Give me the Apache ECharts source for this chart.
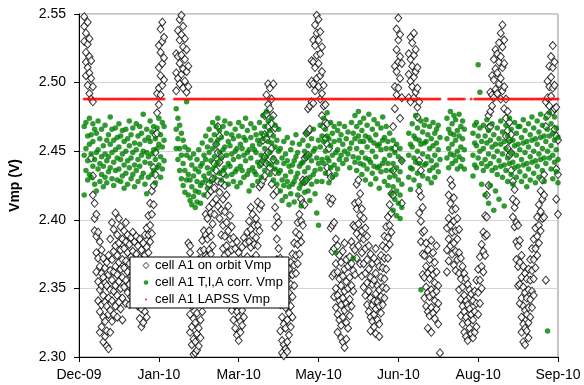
<!DOCTYPE html>
<html>
<head>
<meta charset="utf-8">
<script src="https://cdn.jsdelivr.net/npm/echarts@6.0.0/dist/echarts.min.js"></script>
<style>
  html, body { margin: 0; padding: 0; background: #fff; }
  #chart { width: 584px; height: 385px; }
</style>
</head>
<body>
<div id="chart"></div>
<script>
// x is days after 15 Dec 2009; ticks every 46 days
const monthLabels = ['Dec-09', 'Jan-10', 'Mar-10', 'May-10', 'Jun-10', 'Aug-10', 'Sep-10'];

// on orbit Vmp, one row per day: [day, Vmp, Vmp, ...]
const orbitDec = [
  [3, 2.548, 2.541, 2.530], [4, 2.536, 2.522, 2.515, 2.505], [5, 2.544, 2.528, 2.511, 2.498],
  [6, 2.532, 2.519, 2.507, 2.492], [7, 2.516, 2.503, 2.488, 2.445], [8, 2.497, 2.486, 2.432, 2.418],
  [9, 2.412, 2.401, 2.392], [10, 2.404, 2.388, 2.376, 2.362], [11, 2.391, 2.372, 2.355, 2.341],
  [12, 2.384, 2.366, 2.349, 2.333, 2.318], [13, 2.378, 2.361, 2.352, 2.338, 2.322],
  [14, 2.372, 2.358, 2.345, 2.329, 2.311], [15, 2.365, 2.354, 2.340, 2.326, 2.315],
  [16, 2.369, 2.352, 2.337, 2.319, 2.308], [17, 2.374, 2.360, 2.343, 2.331, 2.306],
  [18, 2.386, 2.363, 2.349, 2.334, 2.318], [19, 2.398, 2.371, 2.356, 2.341, 2.326],
  [20, 2.393, 2.377, 2.362, 2.348, 2.331], [21, 2.405, 2.381, 2.366, 2.352, 2.337],
  [22, 2.389, 2.374, 2.360, 2.345, 2.329], [23, 2.401, 2.383, 2.369, 2.355, 2.340],
  [24, 2.395, 2.378, 2.364, 2.350, 2.335], [25, 2.386, 2.371, 2.358, 2.343, 2.327],
  [26, 2.392, 2.379, 2.365, 2.351], [27, 2.398, 2.384, 2.370, 2.356, 2.339],
  [28, 2.389, 2.376, 2.362, 2.347], [29, 2.382, 2.368, 2.353, 2.338], [30, 2.387, 2.373, 2.359, 2.344],
  [31, 2.391, 2.377, 2.361, 2.349], [32, 2.384, 2.369, 2.356, 2.342], [33, 2.388, 2.375, 2.360, 2.346],
  [34, 2.381, 2.366, 2.352, 2.337], [35, 2.386, 2.372, 2.343, 2.328], [36, 2.378, 2.364, 2.335, 2.322],
  [37, 2.383, 2.368, 2.339, 2.325], [38, 2.389, 2.374, 2.333], [39, 2.394, 2.380, 2.329],
  [40, 2.403, 2.389, 2.376], [41, 2.412, 2.396, 2.384], [42, 2.421, 2.404, 2.390],
  [43, 2.438, 2.425, 2.411], [44, 2.462, 2.449, 2.433], [45, 2.492, 2.478, 2.463],
  [46, 2.527, 2.511, 2.496, 2.484], [47, 2.539, 2.522, 2.505, 2.491], [48, 2.544, 2.530, 2.514, 2.498],
  [49, 2.533, 2.518, 2.502]
];
const orbitFebApr = [
  [56, 2.521, 2.507, 2.494], [57, 2.538, 2.519, 2.503], [58, 2.546, 2.531, 2.514, 2.499],
  [59, 2.549, 2.535, 2.520, 2.506], [60, 2.541, 2.526, 2.510, 2.496], [61, 2.532, 2.517, 2.501],
  [62, 2.524, 2.508, 2.493], [63, 2.512, 2.497, 2.383], [64, 2.381, 2.376, 2.331, 2.318],
  [65, 2.368, 2.352, 2.337, 2.322, 2.309], [66, 2.362, 2.345, 2.328, 2.313, 2.302],
  [67, 2.358, 2.341, 2.325, 2.311, 2.303], [68, 2.364, 2.348, 2.332, 2.317, 2.305],
  [69, 2.371, 2.355, 2.339, 2.321, 2.308], [70, 2.377, 2.361, 2.344, 2.327, 2.314],
  [71, 2.385, 2.368, 2.350, 2.333], [72, 2.392, 2.378, 2.362, 2.345], [73, 2.404, 2.389, 2.374],
  [74, 2.418, 2.401, 2.386, 2.373], [75, 2.426, 2.409, 2.392, 2.378], [76, 2.421, 2.405, 2.388, 2.375],
  [77, 2.430, 2.412, 2.397, 2.381], [78, 2.441, 2.423, 2.404], [79, 2.455, 2.436, 2.415],
  [80, 2.468, 2.449, 2.428, 2.410], [81, 2.461, 2.442, 2.420, 2.401], [82, 2.446, 2.427, 2.407, 2.389],
  [83, 2.434, 2.415, 2.396, 2.379], [84, 2.425, 2.406, 2.388, 2.374], [85, 2.418, 2.398, 2.381],
  [86, 2.410, 2.392, 2.376, 2.352], [87, 2.403, 2.386, 2.362, 2.341], [88, 2.395, 2.378, 2.355, 2.334],
  [89, 2.387, 2.369, 2.346, 2.327], [90, 2.379, 2.361, 2.338, 2.321], [91, 2.384, 2.357, 2.333, 2.316],
  [92, 2.376, 2.350, 2.329, 2.312], [93, 2.372, 2.346, 2.326, 2.318], [94, 2.380, 2.355, 2.334, 2.323],
  [95, 2.387, 2.361, 2.340, 2.329], [96, 2.383, 2.368, 2.345], [97, 2.391, 2.373, 2.351],
  [98, 2.399, 2.384, 2.362], [99, 2.409, 2.393, 2.380], [100, 2.404, 2.389, 2.371],
  [101, 2.396, 2.382, 2.367], [102, 2.401, 2.387, 2.374], [103, 2.413, 2.396, 2.381],
  [104, 2.424, 2.408, 2.392], [105, 2.441, 2.426, 2.411], [106, 2.458, 2.443, 2.429],
  [107, 2.476, 2.462, 2.446, 2.432], [108, 2.491, 2.477, 2.459, 2.441], [109, 2.499, 2.484, 2.468, 2.449],
  [110, 2.496, 2.481, 2.463, 2.438], [111, 2.488, 2.470, 2.452, 2.426], [112, 2.499, 2.476, 2.444, 2.418],
  [113, 2.467, 2.435, 2.409, 2.395]
];
const orbitAprJun = [
  [114, 2.421, 2.402, 2.386, 2.371], [115, 2.398, 2.379, 2.361, 2.343], [116, 2.372, 2.355, 2.338, 2.319],
  [117, 2.361, 2.345, 2.329, 2.312, 2.303], [118, 2.356, 2.339, 2.324, 2.309, 2.301],
  [119, 2.352, 2.336, 2.321, 2.306], [120, 2.358, 2.341, 2.327, 2.311, 2.304],
  [121, 2.364, 2.347, 2.332, 2.316], [122, 2.369, 2.353, 2.337, 2.322], [123, 2.375, 2.360, 2.344, 2.329],
  [124, 2.383, 2.367, 2.352], [125, 2.391, 2.374, 2.361], [126, 2.398, 2.382, 2.368],
  [127, 2.404, 2.389, 2.375], [128, 2.415, 2.399, 2.384], [129, 2.429, 2.412, 2.396],
  [130, 2.445, 2.428, 2.411], [131, 2.463, 2.446, 2.429], [132, 2.481, 2.464, 2.447],
  [133, 2.499, 2.483, 2.466], [134, 2.516, 2.501, 2.486], [135, 2.531, 2.515, 2.499, 2.485],
  [136, 2.542, 2.527, 2.511, 2.494], [137, 2.549, 2.536, 2.520, 2.503], [138, 2.546, 2.531, 2.514, 2.497],
  [139, 2.537, 2.521, 2.505, 2.488], [140, 2.526, 2.508, 2.492, 2.476], [141, 2.498, 2.483, 2.468],
  [142, 2.484, 2.471, 2.459], [143, 2.470, 2.455, 2.438], [144, 2.452, 2.434, 2.416],
  [145, 2.431, 2.412, 2.394], [146, 2.415, 2.396, 2.377, 2.359], [147, 2.398, 2.379, 2.361, 2.344],
  [148, 2.386, 2.368, 2.350, 2.336], [149, 2.381, 2.362, 2.345, 2.331, 2.318],
  [150, 2.374, 2.357, 2.341, 2.327], [151, 2.369, 2.352, 2.338, 2.323, 2.314],
  [152, 2.377, 2.359, 2.343, 2.329, 2.311], [153, 2.383, 2.364, 2.348, 2.334, 2.307],
  [154, 2.371, 2.355, 2.339, 2.325, 2.313], [155, 2.366, 2.350, 2.336, 2.321],
  [156, 2.373, 2.358, 2.342, 2.330], [157, 2.384, 2.368, 2.352, 2.337], [158, 2.396, 2.380, 2.363, 2.348],
  [159, 2.412, 2.395, 2.378, 2.360], [160, 2.426, 2.408, 2.390, 2.372], [161, 2.429, 2.413, 2.397, 2.381],
  [162, 2.419, 2.403, 2.387, 2.368], [163, 2.408, 2.392, 2.376, 2.359], [164, 2.401, 2.386, 2.368, 2.351],
  [165, 2.394, 2.379, 2.361, 2.345], [166, 2.388, 2.371, 2.354, 2.338], [167, 2.381, 2.364, 2.348, 2.333],
  [168, 2.375, 2.358, 2.343, 2.329, 2.319], [169, 2.368, 2.353, 2.338, 2.326],
  [170, 2.372, 2.356, 2.341, 2.331, 2.322], [171, 2.379, 2.361, 2.346, 2.335, 2.317],
  [172, 2.369, 2.352, 2.340, 2.327], [173, 2.366, 2.349, 2.337, 2.324, 2.315],
  [174, 2.374, 2.358, 2.344, 2.332], [175, 2.381, 2.365, 2.351, 2.338], [176, 2.388, 2.372, 2.357, 2.343],
  [177, 2.395, 2.379, 2.364, 2.350], [178, 2.402, 2.387, 2.372], [179, 2.411, 2.396, 2.382],
  [180, 2.419, 2.405, 2.391], [181, 2.468, 2.436, 2.418], [182, 2.512, 2.497, 2.481, 2.452],
  [183, 2.539, 2.524, 2.508, 2.491], [184, 2.547, 2.531, 2.515, 2.496], [185, 2.535, 2.519, 2.503, 2.474],
  [186, 2.514, 2.489, 2.443, 2.412]
];
const orbitJulSep = [
  [190, 2.521, 2.506, 2.489], [191, 2.533, 2.517, 2.501, 2.486], [192, 2.529, 2.512, 2.497],
  [193, 2.536, 2.520, 2.504, 2.489], [194, 2.524, 2.508, 2.493], [195, 2.511, 2.496, 2.482, 2.475],
  [196, 2.486, 2.443, 2.421, 2.405], [197, 2.436, 2.417, 2.399, 2.384], [198, 2.409, 2.391, 2.375, 2.360],
  [199, 2.392, 2.374, 2.358, 2.343], [200, 2.383, 2.366, 2.351, 2.337], [201, 2.378, 2.361, 2.347, 2.333, 2.321],
  [202, 2.371, 2.357, 2.344, 2.330], [203, 2.385, 2.364, 2.349, 2.336, 2.318], [204, 2.376, 2.360, 2.346, 2.332],
  [205, 2.369, 2.354, 2.341, 2.328], [206, 2.381, 2.362, 2.348, 2.335], [207, 2.352, 2.339, 2.324],
  [208, 2.303],
  [212, 2.394, 2.378, 2.362], [213, 2.418, 2.401, 2.386, 2.370], [214, 2.429, 2.412, 2.396, 2.381],
  [215, 2.425, 2.407, 2.391, 2.375], [216, 2.416, 2.399, 2.383, 2.367], [217, 2.408, 2.392, 2.377, 2.363],
  [218, 2.401, 2.386, 2.371], [219, 2.393, 2.376, 2.361, 2.349], [220, 2.372, 2.357, 2.342, 2.330],
  [221, 2.366, 2.351, 2.337, 2.324], [222, 2.361, 2.345, 2.333, 2.318], [223, 2.357, 2.341, 2.329, 2.315],
  [224, 2.353, 2.338, 2.325, 2.312], [225, 2.349, 2.335, 2.321], [226, 2.346, 2.331, 2.317],
  [227, 2.341, 2.327, 2.314], [228, 2.348, 2.333, 2.318], [229, 2.356, 2.339, 2.322],
  [230, 2.364, 2.347, 2.331], [231, 2.373, 2.356, 2.339], [232, 2.382, 2.366, 2.350],
  [233, 2.391, 2.377, 2.362], [234, 2.403, 2.388, 2.374], [235, 2.418, 2.402, 2.389],
  [236, 2.476, 2.467, 2.425], [237, 2.493, 2.479, 2.468], [238, 2.505, 2.491, 2.483],
  [239, 2.517, 2.502, 2.489], [240, 2.524, 2.510, 2.495], [241, 2.521, 2.507, 2.492],
  [242, 2.529, 2.515, 2.499], [243, 2.536, 2.519, 2.503, 2.488], [244, 2.542, 2.526, 2.511, 2.494],
  [245, 2.531, 2.514, 2.497, 2.481], [246, 2.488, 2.474, 2.461], [247, 2.479, 2.465, 2.452],
  [248, 2.471, 2.458, 2.447], [249, 2.462, 2.449, 2.436], [250, 2.428, 2.415, 2.402],
  [251, 2.422, 2.409, 2.395], [252, 2.413, 2.398, 2.384, 2.371], [253, 2.396, 2.381, 2.366, 2.352],
  [254, 2.385, 2.369, 2.353, 2.339], [255, 2.374, 2.358, 2.343, 2.329, 2.318],
  [256, 2.366, 2.351, 2.337, 2.324, 2.311], [257, 2.361, 2.347, 2.334, 2.321, 2.309],
  [258, 2.357, 2.343, 2.331, 2.319], [259, 2.364, 2.349, 2.336, 2.325, 2.314],
  [260, 2.371, 2.356, 2.342, 2.329], [261, 2.379, 2.363, 2.348, 2.336], [262, 2.386, 2.371, 2.357, 2.345],
  [263, 2.394, 2.379, 2.365], [264, 2.402, 2.388, 2.374], [265, 2.411, 2.396, 2.383],
  [266, 2.421, 2.406, 2.392], [267, 2.429, 2.415, 2.401], [268, 2.433, 2.418, 2.402],
  [269, 2.486, 2.468, 2.356], [270, 2.501, 2.489, 2.476], [271, 2.512, 2.497, 2.483],
  [272, 2.519, 2.504, 2.490], [273, 2.527, 2.511, 2.496, 2.479], [274, 2.515, 2.498, 2.481, 2.466],
  [275, 2.482, 2.461, 2.437, 2.415], [276, 2.458, 2.433, 2.404]
];

// T,I,A corrected Vmp, one row per day
const corrDec = [
  [3, 2.468, 2.447, 2.418], [4, 2.452, 2.436, 2.471], [5, 2.461, 2.443, 2.429], [6, 2.474, 2.455, 2.433],
  [7, 2.448, 2.431, 2.462], [8, 2.457, 2.439, 2.470], [9, 2.444, 2.426, 2.466], [10, 2.463, 2.449, 2.421],
  [11, 2.451, 2.437, 2.472], [12, 2.459, 2.441, 2.428], [13, 2.446, 2.433, 2.466], [14, 2.454, 2.439, 2.424],
  [15, 2.469, 2.448, 2.431], [16, 2.443, 2.427, 2.458], [17, 2.462, 2.446, 2.435], [18, 2.455, 2.438, 2.475],
  [19, 2.449, 2.430, 2.466], [20, 2.458, 2.442, 2.425], [21, 2.467, 2.451, 2.436], [22, 2.445, 2.429, 2.460],
  [23, 2.453, 2.437, 2.470], [24, 2.461, 2.444, 2.428], [25, 2.448, 2.432, 2.465], [26, 2.457, 2.440, 2.423],
  [27, 2.466, 2.450, 2.434], [28, 2.443, 2.426, 2.459], [29, 2.454, 2.438, 2.472], [30, 2.462, 2.445, 2.430],
  [31, 2.449, 2.433, 2.467], [32, 2.456, 2.440, 2.424], [33, 2.470, 2.451, 2.436], [34, 2.444, 2.428, 2.461],
  [35, 2.455, 2.439, 2.468], [36, 2.463, 2.447, 2.431], [37, 2.450, 2.434, 2.477], [38, 2.458, 2.442, 2.426],
  [39, 2.466, 2.449, 2.419], [40, 2.446, 2.431, 2.460], [41, 2.457, 2.441, 2.472], [42, 2.464, 2.448, 2.433],
  [43, 2.451, 2.436, 2.468], [44, 2.459, 2.444, 2.427], [45, 2.467, 2.452, 2.438], [46, 2.455, 2.440, 2.474],
  [47, 2.462, 2.446, 2.431], [48, 2.471, 2.453, 2.437], [49, 2.458, 2.443, 2.468]
];
const corrFebApr = [
  [56, 2.481, 2.466, 2.452], [57, 2.474, 2.459, 2.444], [58, 2.469, 2.452, 2.436], [59, 2.463, 2.447, 2.430],
  [60, 2.458, 2.441, 2.425], [61, 2.453, 2.436, 2.420], [62, 2.486, 2.447, 2.429], [63, 2.451, 2.433, 2.418],
  [64, 2.445, 2.429, 2.414], [65, 2.440, 2.424, 2.411], [66, 2.448, 2.432, 2.417], [67, 2.437, 2.421, 2.409],
  [68, 2.444, 2.428, 2.413], [69, 2.451, 2.435, 2.420], [70, 2.439, 2.425, 2.412], [71, 2.456, 2.441, 2.427],
  [72, 2.447, 2.432, 2.418], [73, 2.461, 2.444, 2.429], [74, 2.453, 2.438, 2.423], [75, 2.466, 2.449, 2.434],
  [76, 2.458, 2.443, 2.428], [77, 2.471, 2.452, 2.437], [78, 2.462, 2.446, 2.431], [79, 2.455, 2.440, 2.468],
  [80, 2.474, 2.458, 2.442], [81, 2.449, 2.434, 2.465], [82, 2.460, 2.445, 2.429], [83, 2.468, 2.451, 2.436],
  [84, 2.453, 2.438, 2.472], [85, 2.463, 2.447, 2.432], [86, 2.457, 2.441, 2.426], [87, 2.470, 2.454, 2.439],
  [88, 2.448, 2.433, 2.462], [89, 2.459, 2.444, 2.428], [90, 2.466, 2.450, 2.435], [91, 2.452, 2.437, 2.424],
  [92, 2.461, 2.446, 2.471], [93, 2.455, 2.439, 2.427], [94, 2.468, 2.452, 2.436], [95, 2.447, 2.431, 2.460],
  [96, 2.458, 2.443, 2.474], [97, 2.465, 2.449, 2.433], [98, 2.451, 2.436, 2.421], [99, 2.460, 2.445, 2.470],
  [100, 2.454, 2.438, 2.425], [101, 2.467, 2.451, 2.435], [102, 2.449, 2.433, 2.462], [103, 2.458, 2.442, 2.428],
  [104, 2.471, 2.455, 2.439], [105, 2.463, 2.447, 2.431], [106, 2.476, 2.459, 2.443], [107, 2.468, 2.452, 2.436],
  [108, 2.479, 2.462, 2.446], [109, 2.457, 2.441, 2.472], [110, 2.465, 2.449, 2.433], [111, 2.474, 2.456, 2.440],
  [112, 2.461, 2.445, 2.429], [113, 2.469, 2.453, 2.437]
];
const corrAprJun = [
  [114, 2.458, 2.442, 2.426], [115, 2.466, 2.450, 2.434], [116, 2.452, 2.436, 2.421], [117, 2.445, 2.429, 2.414],
  [118, 2.457, 2.441, 2.425], [119, 2.448, 2.432, 2.417], [120, 2.460, 2.443, 2.428], [121, 2.439, 2.424, 2.411],
  [122, 2.451, 2.435, 2.419], [123, 2.456, 2.440, 2.426], [124, 2.443, 2.428, 2.413], [125, 2.462, 2.446, 2.431],
  [126, 2.449, 2.434, 2.418], [127, 2.455, 2.439, 2.423], [128, 2.441, 2.426, 2.410], [129, 2.458, 2.442, 2.427],
  [130, 2.450, 2.435, 2.420], [131, 2.463, 2.446, 2.429], [132, 2.454, 2.438, 2.421], [133, 2.447, 2.431, 2.414],
  [134, 2.459, 2.443, 2.426], [135, 2.466, 2.450, 2.433], [136, 2.452, 2.436, 2.419], [137, 2.445, 2.428, 2.405],
  [138, 2.458, 2.441, 2.396], [139, 2.469, 2.453, 2.437], [140, 2.461, 2.444, 2.428], [141, 2.474, 2.457, 2.441],
  [142, 2.466, 2.450, 2.434], [143, 2.478, 2.461, 2.445], [144, 2.459, 2.443, 2.427], [145, 2.471, 2.454, 2.438],
  [146, 2.463, 2.447, 2.431], [147, 2.457, 2.440, 2.468], [148, 2.449, 2.433, 2.376], [149, 2.465, 2.451, 2.437],
  [150, 2.458, 2.444, 2.470], [151, 2.462, 2.447], [152, 2.455, 2.441], [153, 2.468, 2.450], [154, 2.459, 2.444],
  [155, 2.464, 2.448], [156, 2.452, 2.438], [157, 2.471, 2.456], [158, 2.463, 2.446, 2.372],
  [159, 2.476, 2.459, 2.442], [160, 2.468, 2.452, 2.436], [161, 2.479, 2.461, 2.445], [162, 2.457, 2.441, 2.471],
  [163, 2.465, 2.449, 2.433], [164, 2.474, 2.457, 2.440], [165, 2.461, 2.445, 2.429], [166, 2.469, 2.453, 2.437],
  [167, 2.477, 2.460, 2.444], [168, 2.458, 2.442, 2.426], [169, 2.466, 2.450, 2.434], [170, 2.473, 2.456, 2.439],
  [171, 2.462, 2.446, 2.430], [172, 2.470, 2.454, 2.438], [173, 2.455, 2.439, 2.423], [174, 2.467, 2.451, 2.435],
  [175, 2.475, 2.458, 2.441], [176, 2.460, 2.444, 2.428], [177, 2.468, 2.452, 2.436], [178, 2.457, 2.441, 2.425],
  [179, 2.463, 2.447, 2.431], [180, 2.452, 2.436, 2.419], [181, 2.458, 2.441, 2.424, 2.407],
  [182, 2.449, 2.432, 2.415], [183, 2.455, 2.438, 2.421, 2.403], [184, 2.446, 2.429, 2.412],
  [185, 2.452, 2.435, 2.418, 2.401], [186, 2.443, 2.426, 2.409]
];
const corrJulSep = [
  [190, 2.463, 2.447, 2.431], [191, 2.455, 2.438, 2.422], [192, 2.470, 2.453, 2.437], [193, 2.461, 2.445, 2.429],
  [194, 2.476, 2.459, 2.442], [195, 2.467, 2.450, 2.434], [196, 2.458, 2.441, 2.425], [197, 2.472, 2.455, 2.349],
  [198, 2.464, 2.448, 2.432], [199, 2.456, 2.440, 2.469], [200, 2.473, 2.457, 2.441], [201, 2.462, 2.446, 2.430],
  [202, 2.468, 2.452, 2.436], [203, 2.459, 2.443, 2.427], [204, 2.471, 2.454, 2.438], [205, 2.463, 2.447, 2.431],
  [206, 2.456, 2.440, 2.466], [207, 2.469, 2.451, 2.435], [208, 2.460, 2.444],
  [212, 2.474, 2.459, 2.445], [213, 2.466, 2.452, 2.438], [214, 2.479, 2.463, 2.448], [215, 2.470, 2.455, 2.441],
  [216, 2.462, 2.447, 2.476], [217, 2.473, 2.458, 2.443], [218, 2.465, 2.450, 2.437], [219, 2.477, 2.461, 2.446],
  [220, 2.468, 2.453, 2.439], [221, 2.459, 2.444, 2.472], [222, 2.466, 2.451, 2.437],
  [227, 2.463, 2.447, 2.432], [228, 2.456, 2.440, 2.469], [229, 2.471, 2.454, 2.438], [230, 2.461, 2.445, 2.513],
  [231, 2.467, 2.450, 2.493], [232, 2.457, 2.441, 2.426], [233, 2.469, 2.452, 2.436], [234, 2.461, 2.444, 2.418],
  [235, 2.473, 2.456, 2.439], [236, 2.465, 2.448, 2.412], [237, 2.458, 2.441, 2.425], [238, 2.470, 2.453, 2.436],
  [239, 2.462, 2.446, 2.407], [240, 2.455, 2.438, 2.421], [241, 2.467, 2.450, 2.433], [242, 2.459, 2.443, 2.415],
  [243, 2.472, 2.455, 2.439], [244, 2.464, 2.448, 2.431], [245, 2.457, 2.440, 2.410], [246, 2.469, 2.452, 2.436],
  [247, 2.461, 2.445, 2.428], [248, 2.474, 2.457, 2.441], [249, 2.466, 2.449, 2.433], [250, 2.458, 2.442, 2.426],
  [251, 2.471, 2.454, 2.438], [252, 2.463, 2.447, 2.431], [253, 2.455, 2.439, 2.468], [254, 2.468, 2.451, 2.435],
  [255, 2.460, 2.444, 2.428], [256, 2.473, 2.456, 2.440], [257, 2.465, 2.449, 2.432], [258, 2.457, 2.441, 2.424],
  [259, 2.470, 2.453, 2.437], [260, 2.462, 2.446, 2.429], [261, 2.475, 2.458, 2.442], [262, 2.467, 2.450, 2.434],
  [263, 2.459, 2.443, 2.427], [264, 2.472, 2.455, 2.439], [265, 2.464, 2.448, 2.431], [266, 2.477, 2.460, 2.444],
  [267, 2.469, 2.452, 2.436], [268, 2.461, 2.445, 2.428], [269, 2.474, 2.457, 2.441], [270, 2.466, 2.450, 2.319],
  [271, 2.478, 2.461, 2.445], [272, 2.470, 2.454, 2.437], [273, 2.463, 2.447, 2.430], [274, 2.475, 2.458, 2.442],
  [275, 2.467, 2.451, 2.435], [276, 2.460, 2.444, 2.427]
];

// LAPSS reference value, shown on the days it covers
const lapssVmp = 2.488;
const lapssSpans = [[3, 49], [55, 208], [213, 222], [226, 226], [228, 276]];

function toPoints(...groups) {
  const pts = [];
  groups.forEach(rows => rows.forEach(r => r.slice(1).forEach(v => pts.push([r[0], v]))));
  return pts;
}

const orbitPoints = toPoints(orbitDec, orbitFebApr, orbitAprJun, orbitJulSep);
const corrPoints = toPoints(corrDec, corrFebApr, corrAprJun, corrJulSep);
const lapssPoints = [];
lapssSpans.forEach(([a, b]) => {
  for (let d = a; d <= b; d++) lapssPoints.push([d, lapssVmp]);
});

// legend icons drawn as small svgs so each can have its own size
const svgIcon = body => 'image://data:image/svg+xml;charset=utf-8,' + encodeURIComponent(
  `<svg xmlns="http://www.w3.org/2000/svg" width="8" height="8">${body}</svg>`);
const diamondIcon = svgIcon('<path d="M4 0.8 L6.9 4 L4 7.2 L1.1 4 Z" fill="#fff" stroke="#000" stroke-width="1"/>');
const dotIcon = (r, fill) => svgIcon(`<circle cx="4" cy="4" r="${r}" fill="${fill}"/>`);

const font = 'Liberation Sans, Arial, sans-serif';
const chart = echarts.init(document.getElementById('chart'));

chart.setOption({
  animation: false,
  backgroundColor: '#fff',
  textStyle: { fontFamily: font, color: '#000' },
  grid: {
    left: 77, right: 26, top: 14, bottom: 28,
    show: true, borderColor: '#8c8c8c', borderWidth: 1
  },
  legend: {
    orient: 'vertical',
    left: 130, top: 257,
    z: 10,
    padding: [2, 6, 2, 12],
    itemGap: 4,
    itemWidth: 8,
    itemHeight: 8,
    backgroundColor: '#fff',
    borderColor: '#000',
    borderWidth: 1,
    borderRadius: 0,
    selectedMode: false,
    textStyle: { fontFamily: font, fontSize: 13, color: '#000' },
    data: [
      { name: 'cell A1 on orbit Vmp', icon: diamondIcon },
      { name: 'cell A1 T,I,A corr. Vmp', icon: dotIcon(2.3, '#008000') },
      { name: 'cell A1 LAPSS Vmp', icon: dotIcon(1.1, '#ff0000') }
    ]
  },
  xAxis: {
    type: 'value',
    min: 0, max: 276, interval: 46,
    axisLine: { show: true, lineStyle: { color: '#000', width: 1 } },
    axisTick: { show: true, inside: false, length: 5, lineStyle: { color: '#000' } },
    splitLine: { show: false },
    axisLabel: {
      margin: 11, fontSize: 14, color: '#000', fontFamily: font,
      formatter: v => monthLabels[Math.round(v / 46)]
    }
  },
  yAxis: {
    type: 'value',
    min: 2.30, max: 2.55, interval: 0.05,
    name: 'Vmp (V)',
    nameLocation: 'middle',
    nameGap: 57,
    nameTextStyle: { fontFamily: font, fontSize: 14, fontWeight: 'bold', color: '#000' },
    axisLine: { show: true, lineStyle: { color: '#000', width: 1 } },
    axisTick: { show: true, inside: false, length: 5, lineStyle: { color: '#000' } },
    splitLine: { show: true, lineStyle: { color: '#d4d4d4', width: 1 } },
    axisLabel: {
      margin: 13, fontSize: 14, color: '#000', fontFamily: font,
      formatter: v => v.toFixed(2)
    }
  },
  series: [
    {
      name: 'cell A1 on orbit Vmp',
      type: 'scatter',
      symbol: 'diamond',
      symbolSize: [7, 8],
      itemStyle: { color: '#fff', borderColor: '#000', borderWidth: 1 },
      data: orbitPoints,
      z: 2
    },
    {
      name: 'cell A1 T,I,A corr. Vmp',
      type: 'scatter',
      symbol: 'circle',
      symbolSize: 5.5,
      itemStyle: { color: '#008000' },
      data: corrPoints,
      z: 3
    },
    {
      name: 'cell A1 LAPSS Vmp',
      type: 'scatter',
      symbol: 'circle',
      symbolSize: 3,
      itemStyle: { color: '#ff0000' },
      data: lapssPoints,
      z: 4
    }
  ]
});
</script>
</body>
</html>
